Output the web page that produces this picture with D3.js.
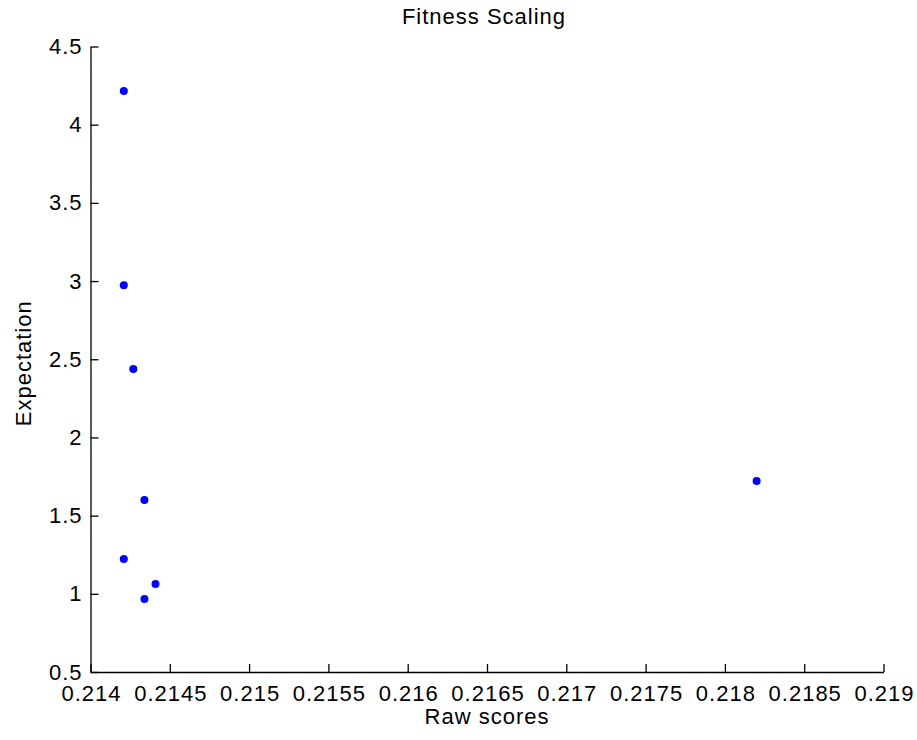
<!DOCTYPE html>
<html>
<head>
<meta charset="utf-8">
<script src="https://cdn.jsdelivr.net/npm/d3@7"></script>
<style>
  html, body { margin: 0; padding: 0; background: #fff; }
  svg { display: block; }
  text { font-family: "Liberation Sans", Arial, sans-serif; fill: #000; }
</style>
</head>
<body>
<script>
// Raw scores of the population and their scaled expectation
const rawScores   = [0.21421, 0.21421, 0.21427, 0.21434, 0.21421, 0.21434, 0.21441, 0.21820];
const expectation = [4.215,   2.974,   2.437,   1.600,   1.222,   0.967,   1.063,   1.721];

const xTicks = [0.214, 0.2145, 0.215, 0.2155, 0.216, 0.2165, 0.217, 0.2175, 0.218, 0.2185, 0.219];
const xTickLabels = ["0.214", "0.2145", "0.215", "0.2155", "0.216", "0.2165", "0.217", "0.2175", "0.218", "0.2185", "0.219"];
const yTicks = [0.5, 1, 1.5, 2, 2.5, 3, 3.5, 4, 4.5];
const yTickLabels = ["0.5", "1", "1.5", "2", "2.5", "3", "3.5", "4", "4.5"];

const W = 917, H = 740;
const plot = { left: 90.5, right: 883.5, top: 46.5, bottom: 672 };

const svg = d3.select("body").append("svg").attr("width", W).attr("height", H);

const x = d3.scaleLinear().domain([0.214, 0.219]).range([plot.left, plot.right]);
const y = d3.scaleLinear().domain([0.5, 4.5]).range([plot.bottom, plot.top]);

const fontSize = "22px";
const spacing = "1px";

function styleText(sel) {
  sel.attr("font-size", fontSize)
    .style("letter-spacing", spacing)
    .attr("font-family", "Liberation Sans, Arial, sans-serif")
    .attr("fill", "#000");
}

// x axis: ticks point inward (up)
const xAxis = d3.axisBottom(x)
  .tickValues(xTicks)
  .tickFormat((d, i) => xTickLabels[i])
  .tickSizeInner(-8)
  .tickSizeOuter(0)
  .tickPadding(13);

const gx = svg.append("g").attr("transform", `translate(0,${plot.bottom})`).call(xAxis);
gx.select(".domain").attr("stroke", "#000").attr("stroke-width", 1.3);
gx.selectAll(".tick line").attr("stroke", "#000").attr("stroke-width", 1.3);
gx.selectAll(".tick text").call(styleText).attr("dx", "0.5px");

// y axis: ticks point inward (right)
const yAxis = d3.axisLeft(y)
  .tickValues(yTicks)
  .tickFormat((d, i) => yTickLabels[i])
  .tickSizeInner(-8)
  .tickSizeOuter(0)
  .tickPadding(8);

const gy = svg.append("g").attr("transform", `translate(${plot.left},0)`).call(yAxis);
gy.select(".domain").attr("stroke", "#000").attr("stroke-width", 1.3);
gy.selectAll(".tick line").attr("stroke", "#000").attr("stroke-width", 1.3);
gy.selectAll(".tick text").call(styleText);

// Scatter points
svg.append("g")
  .selectAll("circle")
  .data(rawScores.map((r, i) => ({ r, e: expectation[i] })))
  .join("circle")
  .attr("cx", d => x(d.r))
  .attr("cy", d => y(d.e))
  .attr("r", 4)
  .attr("fill", "#0000ff");

// Title and axis labels
const cx = (plot.left + plot.right) / 2;
svg.append("text")
  .attr("x", cx - 3).attr("y", 24)
  .attr("text-anchor", "middle")
  .call(styleText)
  .text("Fitness Scaling");

svg.append("text")
  .attr("x", cx).attr("y", 724)
  .attr("text-anchor", "middle")
  .call(styleText)
  .text("Raw scores");

svg.append("text")
  .attr("transform", `translate(31,${(plot.top + plot.bottom) / 2 + 4}) rotate(-90)`)
  .attr("text-anchor", "middle")
  .call(styleText)
  .text("Expectation");
</script>
</body>
</html>
